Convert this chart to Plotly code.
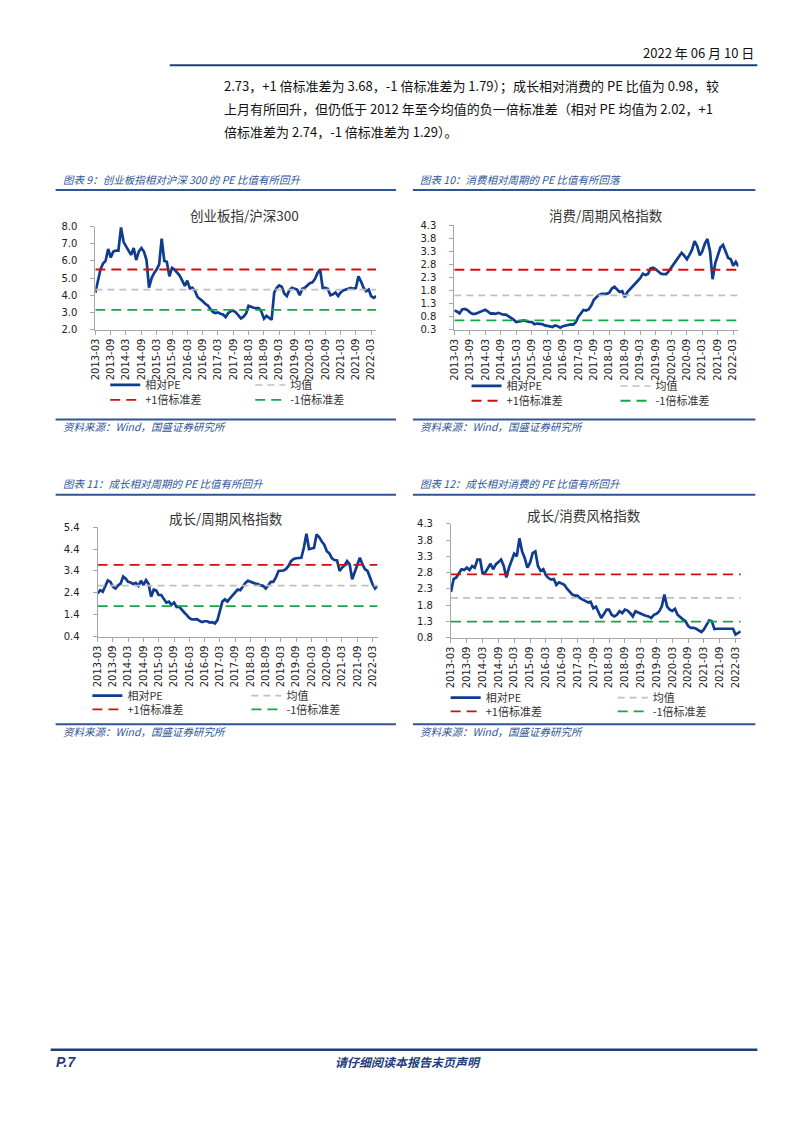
import plotly.graph_objects as go
import pandas as pd

W, H = 802, 1133

# ---------------- data ----------------
months = pd.date_range("2013-03-01", "2022-05-01", freq="MS")  # 111 monthly points

cyb_hs300 = [4.15, 4.8, 5.5, 5.85, 6.0, 6.7, 6.2, 6.55, 6.6, 6.6,
             7.95, 7.1, 6.85, 6.6, 6.35, 6.75, 6.05, 6.55, 6.75, 6.55,
             6.05, 4.45, 5.0, 5.3, 5.5, 5.8, 7.3, 6.0, 5.95, 5.1,
             5.6, 5.5, 5.3, 5.15, 4.85, 4.55, 4.85, 4.4, 4.43, 4.25,
             3.9, 3.8, 3.65, 3.5, 3.4, 3.2, 3.02, 2.96, 3.0, 2.92,
             2.88, 2.73, 2.95, 3.07, 3.1, 3.0, 2.85, 2.65, 2.75, 2.95,
             3.38, 3.3, 3.27, 3.25, 3.25, 3.05, 2.63, 2.8, 2.66, 2.57,
             4.15, 4.43, 4.57, 4.5, 4.1, 3.95, 4.3, 4.43, 4.38, 4.33,
             4.0, 4.38, 4.43, 4.55, 4.7, 4.75, 4.95, 5.3, 5.5, 4.43,
             4.43, 4.38, 4.0, 4.05, 4.15, 3.96, 4.15, 4.28, 4.35, 4.38,
             4.43, 4.38, 4.43, 5.1, 4.8, 4.43, 4.24, 4.33, 3.95, 3.85,
             3.95]
cyb_stats = [4.33, 5.5, 3.15]   # mean, +1σ, -1σ

cons_cyc = [1.04, 1.0, 0.93, 1.08, 1.1, 1.06, 0.97, 0.91, 0.91, 0.95,
            0.98, 1.02, 1.07, 1.0, 0.92, 0.93, 0.91, 0.95, 0.9, 0.88,
            0.88, 0.82, 0.76, 0.68, 0.6, 0.62, 0.62, 0.66, 0.63, 0.6,
            0.6, 0.51, 0.54, 0.54, 0.52, 0.47, 0.44, 0.43, 0.41, 0.47,
            0.44, 0.38, 0.44, 0.47, 0.5, 0.51, 0.5, 0.6, 0.79, 0.95,
            1.06, 1.04, 1.08, 1.23, 1.45, 1.55, 1.64, 1.68, 1.68, 1.68,
            1.72, 1.88, 1.95, 1.85, 1.75, 1.78, 1.55, 1.75, 1.85, 1.95,
            2.05, 2.18, 2.28, 2.45, 2.4, 2.44, 2.65, 2.68, 2.62, 2.55,
            2.45, 2.43, 2.43, 2.55, 2.68, 2.85, 3.0, 3.1, 3.25, 3.14,
            3.0, 3.17, 3.37, 3.7, 3.5, 3.15, 3.3, 3.6, 3.78, 3.3,
            2.24, 2.85, 3.2, 3.45, 3.55, 3.27, 3.05, 3.0, 2.75, 2.9,
            2.73]
cons_stats = [1.62, 2.6, 0.66]

grow_cyc = [2.37, 2.52, 2.45, 2.74, 2.97, 2.9, 2.67, 2.6, 2.74, 2.82,
            3.15, 3.05, 2.9, 2.87, 2.8, 2.85, 2.72, 2.95, 2.76, 2.98,
            2.8, 2.22, 2.55, 2.5, 2.3, 2.3, 2.1, 1.95, 2.0, 1.85,
            1.95, 1.75, 1.77, 1.62, 1.5, 1.38, 1.25, 1.18, 1.2, 1.2,
            1.12, 1.06, 1.1, 1.1, 1.04, 1.06, 1.0, 1.15, 1.55, 2.0,
            2.1, 2.0, 2.15, 2.3, 2.45, 2.55, 2.52, 2.7, 2.85, 2.95,
            2.9, 2.88, 2.82, 2.8, 2.74, 2.72, 2.6, 2.74, 2.9, 2.9,
            3.1, 3.4, 3.4, 3.42, 3.48, 3.63, 3.85, 3.95, 3.98, 3.98,
            4.0, 4.46, 5.1, 4.4, 4.43, 4.45, 5.07, 4.95, 4.76, 4.6,
            4.3, 4.2, 3.98, 3.9, 3.88, 3.4, 3.55, 3.65, 3.85, 3.7,
            3.02, 3.35, 3.65, 4.0, 3.7, 3.48, 3.4, 3.1, 2.8, 2.6,
            2.72]
grow_cyc_stats = [2.73, 3.68, 1.79]

grow_cons = [2.2, 2.6, 2.65, 2.8, 2.9, 2.88, 2.95, 2.88, 3.0, 2.95,
             3.2, 3.2, 2.78, 2.8, 2.95, 3.07, 2.9, 3.05, 3.12, 3.2,
             3.0, 2.65, 2.95, 3.2, 3.38, 3.3, 3.85, 3.45, 3.25, 2.95,
             3.1, 3.4, 3.45, 3.0, 2.85, 2.9, 2.72, 2.63, 2.58, 2.6,
             2.42, 2.5, 2.45, 2.42, 2.3, 2.22, 2.12, 2.09, 2.09, 2.01,
             1.97, 1.93, 1.88, 1.9, 1.7, 1.75, 1.55, 1.4, 1.52, 1.66,
             1.66, 1.5, 1.45, 1.5, 1.61, 1.55, 1.66, 1.63, 1.55, 1.45,
             1.61, 1.58, 1.55, 1.5, 1.47, 1.45, 1.4, 1.5, 1.53, 1.6,
             1.76, 2.12, 1.75, 1.66, 1.62, 1.68, 1.5, 1.42, 1.36, 1.3,
             1.15, 1.1, 1.1, 1.07, 1.03, 0.97, 1.05, 1.2, 1.33, 1.3,
             1.06, 1.07, 1.07, 1.05, 1.07, 1.07, 1.06, 1.07, 0.89, 0.94,
             0.99]
grow_cons_stats = [2.02, 2.74, 1.29]

series_names = ["相对PE", "均值", "+1倍标准差", "-1倍标准差"]
chart_titles = ["创业板指/沪深300", "消费/周期风格指数", "成长/周期风格指数", "成长/消费风格指数"]
captions = ["图表 9：创业板指相对沪深 300 的 PE 比值有所回升",
            "图表 10：消费相对周期的 PE 比值有所回落",
            "图表 11：成长相对周期的 PE 比值有所回升",
            "图表 12：成长相对消费的 PE 比值有所回升"]
source_text = "资料来源：Wind，国盛证券研究所"
y_ticks = [(2.0, 8.0, 1.0), (0.3, 4.3, 0.5), (0.4, 5.4, 1.0), (0.8, 4.3, 0.5)]

para_lines = ["2.73，+1 倍标准差为 3.68，-1 倍标准差为 1.79）；成长相对消费的 PE 比值为 0.98，较",
              "上月有所回升，但仍低于 2012 年至今均值的负一倍标准差（相对 PE 均值为 2.02，+1",
              "倍标准差为 2.74，-1 倍标准差为 1.29）。"]

# ---------------- layout geometry (pixels) ----------------
def px(x): return x / W
def py(y): return 1 - y / H

# x0, x1, ytop, ybottom of each plot area
plot_boxes = [(90, 373, 223, 327), (451.7, 737.9, 221.7, 327.3),
              (92.3, 374.4, 526.8, 637.3), (448.3, 740.3, 523.3, 638.3)]
title_pos = [(240, 211), (605, 211), (222, 517), (582, 514)]
# (row1 x,y), (row2 x,y), column spacing
legend_rows = [((100, 383), (100, 398), 146), ((464, 384), (464, 399), 150),
               ((82, 697), (82, 711), 160), ((443, 699), (443, 713), 168)]
cap_pos = [(55, 175, 50, 393, 186, 418, 425), (415, 175, 410, 755, 186, 418, 425),
           (55, 483, 50, 393, 494, 726, 733), (415, 483, 410, 755, 494, 726, 733)]

NAVY = "#0F3C8F"
CAPBLUE = "#2F5597"
FONT_CN = "Noto Sans CJK SC"
FONT_AX = "DejaVu Sans"

datasets = [(cyb_hs300, cyb_stats), (cons_cyc, cons_stats),
            (grow_cyc, grow_cyc_stats), (grow_cons, grow_cons_stats)]

fig = go.Figure()
layout = dict(width=W, height=H, margin=dict(l=0, r=0, t=0, b=0),
              paper_bgcolor="white", plot_bgcolor="white", showlegend=True)

annotations = []
shapes = []

for k, ((vals, stats), box) in enumerate(zip(datasets, plot_boxes)):
    n = k + 1
    xa = "x" if n == 1 else f"x{n}"
    ya = "y" if n == 1 else f"y{n}"
    lg1 = "legend" if n == 1 else f"legend{2*k+1}"
    lg2 = f"legend{2*k+2}"
    x0, x1, yt, yb = box
    ylo, yhi, dt = y_ticks[k]

    mean, up, dn = stats
    fig.add_trace(go.Scatter(x=months, y=vals, mode="lines", name=series_names[0],
                             line=dict(color=NAVY, width=2.7), xaxis=xa, yaxis=ya,
                             legend=lg1))
    fig.add_trace(go.Scatter(x=[months[0], months[-1]], y=[mean, mean], mode="lines",
                             name=series_names[1], line=dict(color="#C0C0C0", width=1.6, dash="7px,5px"),
                             xaxis=xa, yaxis=ya, legend=lg1))
    fig.add_trace(go.Scatter(x=[months[0], months[-1]], y=[up, up], mode="lines",
                             name=series_names[2], line=dict(color="#D01010", width=1.8, dash="10px,6px"),
                             xaxis=xa, yaxis=ya, legend=lg2))
    fig.add_trace(go.Scatter(x=[months[0], months[-1]], y=[dn, dn], mode="lines",
                             name=series_names[3], line=dict(color="#12A84A", width=1.8, dash="10px,6px"),
                             xaxis=xa, yaxis=ya, legend=lg2))

    axkey_x = "xaxis" if n == 1 else f"xaxis{n}"
    axkey_y = "yaxis" if n == 1 else f"yaxis{n}"
    layout[axkey_x] = dict(domain=[px(x0), px(x1)], anchor=ya, type="date",
                           range=[months[0], months[-1]], tickmode="linear",
                           tick0="2013-03-01", dtick="M6", tickformat="%Y-%m",
                           tickangle=-90, showgrid=False, zeroline=False,
                           showline=True, linecolor="#A6A6A6", linewidth=1,
                           ticks="outside", ticklen=4, tickcolor="#A6A6A6",
                           tickfont=dict(family=FONT_AX, size=10, color="#222"))
    layout[axkey_y] = dict(domain=[py(yb), py(yt)], anchor=xa, range=[ylo, yhi],
                           tickmode="linear", tick0=ylo, dtick=dt, tickformat=".1f",
                           showgrid=False, zeroline=False, showline=True,
                           linecolor="#A6A6A6", linewidth=1, ticks="outside",
                           ticklen=4, tickcolor="#A6A6A6", ticklabelstandoff=11,
                           tickfont=dict(family=FONT_AX, size=10, color="#222"))

    (r1x, r1y), (r2x, r2y), ew = legend_rows[k]
    for key, (lx, ly) in ((lg1, (r1x, r1y)), (lg2, (r2x, r2y))):
        layout[key] = dict(orientation="h", x=px(lx), y=py(ly), xanchor="left",
                           yanchor="middle", bgcolor="rgba(0,0,0,0)",
                           entrywidth=ew - 46, entrywidthmode="pixels",
                           font=dict(family=FONT_CN, size=11, color="#333"),
                           tracegroupgap=0, itemclick=False)

    tx, ty = title_pos[k]
    annotations.append(dict(x=px(tx), y=py(ty), xref="paper", yref="paper",
                            text=chart_titles[k], showarrow=False,
                            font=dict(family=FONT_CN, size=13.5, color="#333"),
                            xanchor="center", yanchor="middle"))

    cx, cy, lx0, lx1, ly_cap, ly_src, ty_src = cap_pos[k]
    annotations.append(dict(x=px(cx), y=py(cy), xref="paper", yref="paper",
                            text=f"<i>{captions[k]}</i>", showarrow=False,
                            font=dict(family=FONT_CN, size=10.5, color=CAPBLUE),
                            xanchor="left", yanchor="middle"))
    annotations.append(dict(x=px(cx), y=py(ty_src), xref="paper", yref="paper",
                            text=f"<i>{source_text}</i>", showarrow=False,
                            font=dict(family=FONT_CN, size=10.5, color=CAPBLUE),
                            xanchor="left", yanchor="middle"))
    for yy in (ly_cap, ly_src):
        shapes.append(dict(type="line", xref="paper", yref="paper",
                           x0=px(lx0), x1=px(lx1), y0=py(yy), y1=py(yy),
                           line=dict(color=CAPBLUE, width=2)))

# header
annotations.append(dict(x=px(756), y=py(47), xref="paper", yref="paper",
                        text="2022 年 06 月 10 日", showarrow=False,
                        font=dict(family=FONT_CN, size=13, color="#111"),
                        xanchor="right", yanchor="middle"))
shapes.append(dict(type="line", xref="paper", yref="paper", x0=px(165), x1=px(757),
                   y0=py(60), y1=py(60), line=dict(color="#1F3D7A", width=2)))
for i, (t, yy) in enumerate(zip(para_lines, (80, 104, 127))):
    annotations.append(dict(x=px(218), y=py(yy), xref="paper", yref="paper",
                            text=t, showarrow=False,
                            font=dict(family=FONT_CN, size=13, color="#111"),
                            xanchor="left", yanchor="middle"))

# footer
shapes.append(dict(type="line", xref="paper", yref="paper", x0=px(45), x1=px(757),
                   y0=py(1055), y1=py(1055), line=dict(color="#1F3D7A", width=2.5)))
annotations.append(dict(x=px(48), y=py(1067), xref="paper", yref="paper",
                        text="<b><i>P.7</i></b>", showarrow=False,
                        font=dict(family="Liberation Sans", size=14, color="#1F3D7A"),
                        xanchor="left", yanchor="middle"))
annotations.append(dict(x=px(405), y=py(1067), xref="paper", yref="paper",
                        text="<b><i>请仔细阅读本报告末页声明</i></b>", showarrow=False,
                        font=dict(family=FONT_CN, size=12, color="#1F3D7A"),
                        xanchor="center", yanchor="middle"))

layout["annotations"] = annotations
layout["shapes"] = shapes
fig.update_layout(**layout)

fig.write_html("out.html", config={"displayModeBar": False},
               post_script="document.body.style.margin='0px';document.body.style.overflow='hidden';")
